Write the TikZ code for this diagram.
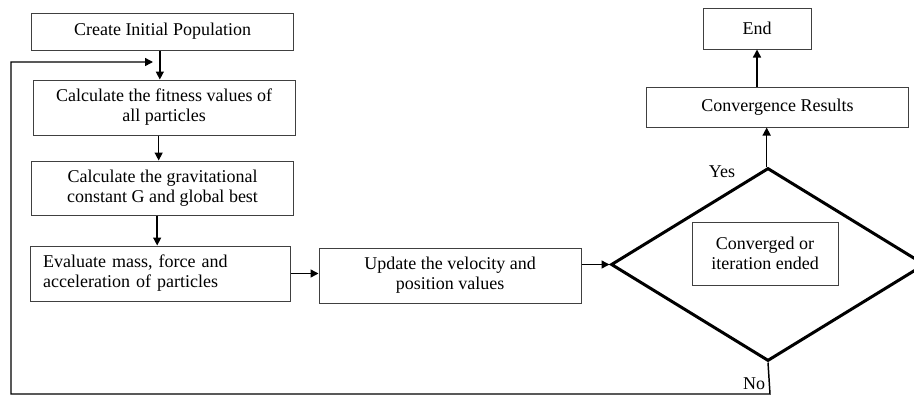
\documentclass[tikz,border=0pt]{standalone}
\usepackage{fontspec}
\setmainfont{Liberation Serif}
\usetikzlibrary{shapes.geometric,arrows.meta}

\begin{document}
\begin{tikzpicture}[x=0.75pt,y=-0.75pt,>={Triangle[length=6pt,width=6pt]},line width=1.1pt]
\tikzstyle{mybox}=[draw=black!75,line width=0.75pt,rectangle,inner sep=2pt,align=center,font=\fontsize{13.5}{15}\selectfont]
\tikzstyle{mylabel}=[font=\fontsize{13.5}{15}\selectfont,inner sep=1pt]

\clip (0,0) rectangle (914,396);

\node[mybox,minimum width=196pt,minimum height=27.75pt] (init) at (162.5,31.5) {Create Initial Population};
\node[mybox,minimum width=196.5pt,minimum height=41.25pt] (fit) at (164,107.5) {Calculate the fitness values of\\all particles};
\node[mybox,minimum width=196pt,minimum height=40.5pt] (grav) at (162.5,188) {Calculate the gravitational\\constant G and global best};
\node[mybox,align=left,text width=176pt,inner xsep=9.75pt,minimum height=41.25pt] (eval) at (160.5,273.5) {Evaluate mass, force and\\acceleration of particles};
\node[mybox,minimum width=196.5pt,minimum height=41.25pt] (update) at (450,275.5) {Update the velocity and\\position values};
\node[draw,shape=diamond,line width=2.25pt,inner sep=0pt,minimum width=235.5pt,minimum height=144.75pt] (dec) at (768,264.5) {};
\node[mybox,minimum width=109.5pt,minimum height=47.25pt] (cond) at (765,253.5) {Converged or\\iteration ended};
\node[mybox,minimum width=196pt,minimum height=30pt] (conv) at (777.5,107) {Convergence Results};
\node[mybox,minimum width=81pt,minimum height=30.75pt] (end) at (757,28.5) {End};

\node[mylabel] (yes) at (722,172) {Yes};
\node[mylabel] (no) at (754,384) {No};

\coordinate (loopin) at (153,62);

% main flow
\draw[->] ([xshift=-2pt]init.south) -- ([xshift=-2pt]init.south |- fit.north);
\draw[->] ([xshift=-4pt]fit.south) -- ([xshift=-4pt]fit.south |- grav.north);
\draw[->] ([xshift=-4pt]grav.south) -- ([xshift=-4pt]grav.south |- eval.north);
\draw[->] (eval.east) -- (eval.east -| update.west);
\draw[->] (update.east |- dec.west) -- (dec.west);
\draw[->] ([xshift=-1pt]dec.north) -- ([xshift=-1pt]dec.north |- conv.south);
\draw[->] (conv.north -| end.south) -- (end.south);

% loop back
\draw[->] (dec.south) -- (770,394) -| (11,62) -- (loopin);

\end{tikzpicture}
\end{document}
